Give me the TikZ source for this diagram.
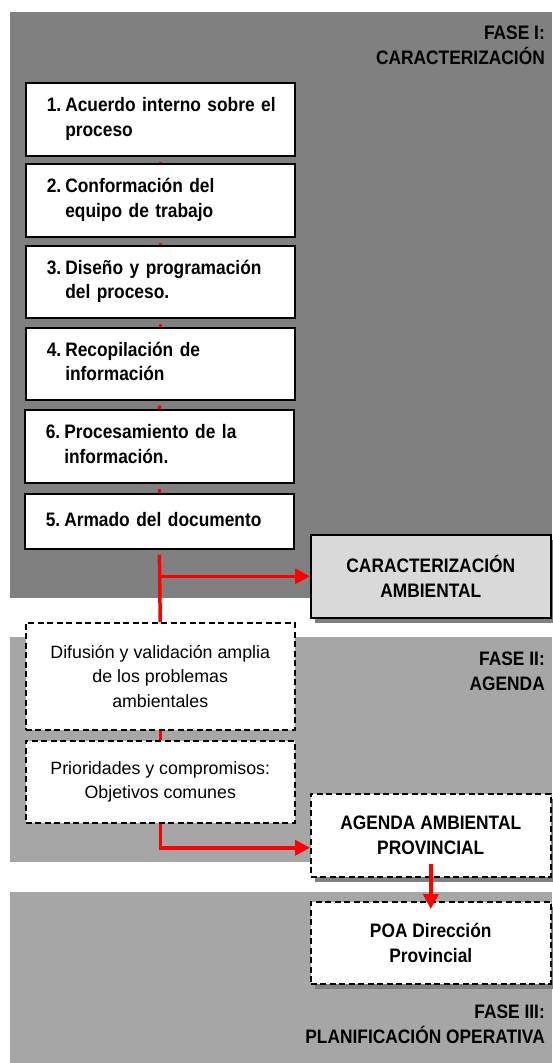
\documentclass[tikz,border=0pt]{standalone}
\usepackage{fontspec}
\setmainfont{Liberation Sans}[BoldFeatures={FakeStretch=0.89}]
\usetikzlibrary{arrows.meta,shadows}

\definecolor{faseuno}{HTML}{808080}
\definecolor{fasedos}{HTML}{A6A6A6}
\definecolor{grisclaro}{HTML}{D9D9D9}

\tikzset{
  paso/.style={draw, line width=1.6pt, fill=white, anchor=north west,
    inner xsep=21pt, inner ysep=0pt, text width=227pt, minimum height=#1,
    align=left, font=\fontsize{19.5}{24.5}\selectfont\bfseries},
  paso/.default=73pt,
  sombra/.style={drop shadow={shadow xshift=4pt, shadow yshift=-5pt,
    fill=black!50, opacity=1}},
  punteada/.style={draw, line width=1.5pt, dash pattern=on 6pt off 3.5pt,
    fill=white, anchor=north west, inner sep=0pt, align=center},
  resultado/.style={draw, line width=1.6pt, anchor=north west, inner sep=0pt,
    minimum width=240pt, minimum height=#1, align=center, sombra,
    font=\fontsize{19.5}{24.5}\selectfont\bfseries},
  resultado/.default=83pt,
  fase/.style={anchor=north east, inner sep=0pt, align=right,
    font=\fontsize{19.5}{24.5}\selectfont\bfseries},
  linea/.style={red, line width=3.5pt},
  flecha/.style={linea, -{Triangle[length=15pt,width=15pt]}}
}

\begin{document}
\begin{tikzpicture}[x=1pt,y=1pt]
  \def\etapa#1#2{\begin{tabular}{@{}l@{\hspace{4pt}}l@{}}#1&#2\end{tabular}}
  \useasboundingbox (0,0) rectangle (552,-1063);

  % fondos de las fases
  \fill[faseuno] (10,-12) rectangle (552,-598);
  \fill[fasedos] (10,-637) rectangle (552,-862);
  \fill[fasedos] (10,-892) rectangle (552,-1063);

  \node[fase] (f1) at (545,-26) {FASE I:\\CARACTERIZACIÓN};
  \node[fase] (f2) at (545,-652) {FASE II:\\AGENDA};
  \node[fase] (f3) at (545,-1005) {FASE III:\\PLANIFICACIÓN OPERATIVA};

  % fase I
  \node[paso] (p1) at (25,-82) {\etapa{1.}{Acuerdo interno sobre el\\&proceso}};
  \node[paso] (p2) at (25,-163) {\etapa{2.}{Conformación del\\&equipo de trabajo}};
  \node[paso=72pt] (p3) at (25,-245) {\etapa{3.}{Diseño y programación\\&del proceso.}};
  \node[paso=72pt] (p4) at (25,-327) {\etapa{4.}{Recopilación de\\&información}};
  \node[paso] (p6) at (24,-409) {\etapa{6.}{Procesamiento de la\\&información.}};
  \node[paso=55pt] (p5) at (24,-493) {\etapa{5.}{Armado del documento}};
  \node[resultado, fill=grisclaro] (car) at (310,-534) {CARACTERIZACIÓN\\AMBIENTAL};

  % fase II
  \node[punteada, minimum width=269pt, minimum height=107pt,
    font=\fontsize{17.8}{24.5}\selectfont] (dif) at (25,-622)
    {Difusión y validación amplia\\de los problemas\\ambientales};
  \node[punteada, minimum width=269pt, minimum height=82pt,
    font=\fontsize{17.8}{24.5}\selectfont] (pri) at (25,-740)
    {Prioridades y compromisos:\\Objetivos comunes};
  \node[resultado, punteada, fill=white] (age) at (310,-793) {AGENDA AMBIENTAL\\PROVINCIAL};

  % fase III
  \node[resultado=82pt, punteada, fill=white] (poa) at (310,-901) {POA Dirección\\Provincial};

  % conectores
  \foreach \a/\b in {p1/p2,p2/p3,p3/p4,p4/p6,p6/p5}
    \draw[linea, shorten <=5pt] (\a.south) -- (\b.north);
  \draw[linea, shorten <=5pt] (p5.south) -- (dif.north);
  \draw[flecha] (p5.south |- car.west) -- (car.west);
  \draw[linea] (dif.south) -- (pri.north);
  \draw[flecha] (pri.south) |- ([yshift=-12.5pt]age.west);
  \draw[flecha] ([yshift=14pt]age.south) -- ([yshift=-8pt]poa.north);
\end{tikzpicture}
\end{document}
